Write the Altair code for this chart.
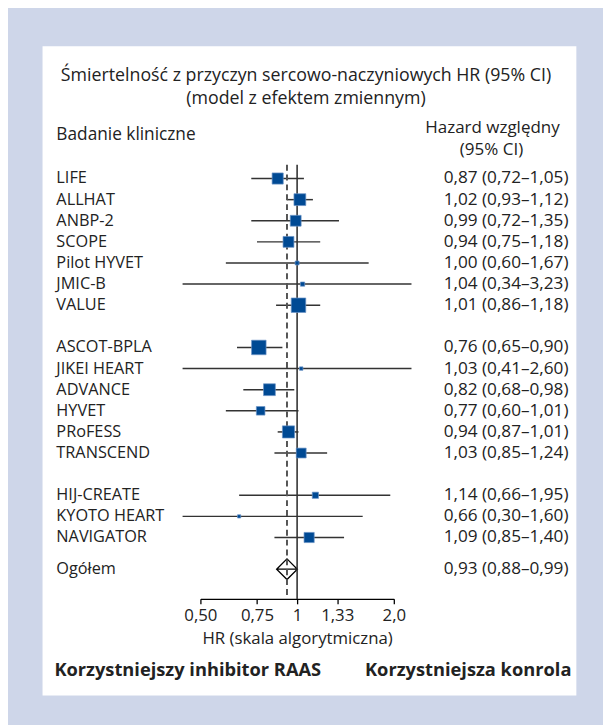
import altair as alt
import pandas as pd

# ---- data ----
studies = ["LIFE", "ALLHAT", "ANBP-2", "SCOPE", "Pilot HYVET", "JMIC-B", "VALUE",
           "ASCOT-BPLA", "JIKEI HEART", "ADVANCE", "HYVET", "PRoFESS", "TRANSCEND",
           "HIJ-CREATE", "KYOTO HEART", "NAVIGATOR"]
group = [1, 1, 1, 1, 1, 1, 1, 2, 2, 2, 2, 2, 2, 3, 3, 3]
hr = [0.87, 1.02, 0.99, 0.94, 1.00, 1.04, 1.01,
      0.76, 1.03, 0.82, 0.77, 0.94, 1.03,
      1.14, 0.66, 1.09]
lo = [0.72, 0.93, 0.72, 0.75, 0.60, 0.34, 0.86,
      0.65, 0.41, 0.68, 0.60, 0.87, 0.85,
      0.66, 0.30, 0.85]
hi = [1.05, 1.12, 1.35, 1.18, 1.67, 3.23, 1.18,
      0.90, 2.60, 0.98, 1.01, 1.01, 1.24,
      1.95, 1.60, 1.40]
weight = [11.3, 12.0, 11.0, 11.0, 4.0, 4.3, 14.7,
          14.7, 3.5, 12.0, 8.7, 12.3, 10.0,
          6.3, 3.3, 10.3]
overall_label = "Ogółem"
overall = [0.93, 0.88, 0.99]

tick_values = [0.5, 0.75, 1.0, 1.3333, 2.0]
tick_labels = ["0,50", "0,75", "1", "1,33", "2,0"]

title_lines = ["Śmiertelność z przyczyn sercowo-naczyniowych HR (95% CI)",
               "(model z efektem zmiennym)"]
col_left_header = "Badanie kliniczne"
col_right_header = ["Hazard względny", "(95% CI)"]
axis_title = "HR (skala algorytmiczna)"
favours = ["Korzystniejszy inhibitor RAAS", "Korzystniejsza konrola"]

# ---- build table ----
def fmt(v):
    return f"{v:.2f}".replace(".", ",")

CLIP_LO, CLIP_HI = 0.44, 2.27
rows = []
for i, s in enumerate(studies):
    row = i + (group[i] - 1)
    rows.append(dict(study=s, row=row, hr=hr[i], lo=lo[i], hi=hi[i],
                     lo_c=max(lo[i], CLIP_LO), hi_c=min(hi[i], CLIP_HI),
                     w=weight[i],
                     label=f"{fmt(hr[i])} ({fmt(lo[i])}–{fmt(hi[i])})"))
df = pd.DataFrame(rows)
ov_row = 18.5
dfo = pd.DataFrame([dict(study=overall_label, row=ov_row, hr=overall[0], lo=overall[1], hi=overall[2],
                         label=f"{fmt(overall[0])} ({fmt(overall[1])}–{fmt(overall[2])})")])
dft = pd.concat([df[["study", "row", "label"]], dfo[["study", "row", "label"]]])

FONT = "Open Sans"
INK = "#222222"
W, H = 541, 658
STEP = 21.4

xs = alt.Scale(type="log", domain=[0.5, 2.0], range=[160, 356])
ys = alt.Scale(domain=[0, 18], range=[134, 134 + 18 * STEP])

label_expr = " : ".join(
    f"datum.value == {v} ? '{l}'" for v, l in zip(tick_values, tick_labels)) + " : ''"

base = alt.Chart(df)

ci = base.mark_rule(color="#333333", strokeWidth=1.5).encode(
    x=alt.X("lo_c:Q", scale=xs,
            axis=alt.Axis(values=tick_values, labelExpr=label_expr, grid=False,
                          offset=-98, tickSize=5, tickColor="black", domainColor="black",
                          domainWidth=1.3, tickWidth=1.3, labelFontSize=17, labelFont=FONT,
                          labelColor=INK, labelPadding=4, labelFlush=False,
                          title=axis_title, titleFont=FONT, titleFontSize=17,
                          titleFontWeight="normal", titleColor=INK,
                          titleX=258, titleY=40, titleAlign="center", titleBaseline="middle")),
    x2="hi_c:Q",
    y=alt.Y("row:Q", scale=ys, axis=None),
)

diamond = alt.Chart(dfo).mark_point(
    shape="M-1,0L0,-1L1,0L0,1ZM-1,0L1,0", size=441, filled=False,
    fill="white", fillOpacity=1, stroke="black", strokeWidth=1.3, opacity=1
).encode(x=alt.X("hr:Q", scale=xs), y=alt.Y("row:Q", scale=ys))

vline_solid = alt.Chart(pd.DataFrame({"v": [1.0]})).mark_rule(
    color="#333333", strokeWidth=1.6).encode(
    x=alt.X("v:Q", scale=xs), y=alt.value(120), y2=alt.value(560))
vline_dash = alt.Chart(dfo).mark_rule(
    color="#555555", strokeWidth=2, strokeDash=[6, 4]).encode(
    x=alt.X("hr:Q", scale=xs), y=alt.value(120), y2=alt.value(557))

squares = base.mark_square(color="#004a94", opacity=1, stroke="#6a93c6", strokeWidth=0.7).encode(
    x=alt.X("hr:Q", scale=xs),
    y=alt.Y("row:Q", scale=ys),
    size=alt.Size("w:Q", scale=alt.Scale(type="pow", exponent=2, domain=[0, 15], range=[0, 225]),
                  legend=None),
)

names = alt.Chart(dft).mark_text(align="left", baseline="middle", font=FONT, fontSize=16.5,
                                 color=INK).encode(
    x=alt.value(14), y=alt.Y("row:Q", scale=ys), text="study:N")
hrtext = alt.Chart(dft).mark_text(align="right", baseline="middle", font=FONT, fontSize=17.4,
                                  color=INK).encode(
    x=alt.value(533), y=alt.Y("row:Q", scale=ys), text="label:N")


def label(text, x, y, size, align="center", weight="normal"):
    return alt.Chart(pd.DataFrame({"t": [text]})).mark_text(
        align=align, baseline="middle", font=FONT, fontSize=size, fontWeight=weight,
        color=INK).encode(x=alt.value(x), y=alt.value(y), text="t:N")


t1 = label(title_lines[0], 267, 30, 18)
t2 = label(title_lines[1], 267, 53, 18)
h1 = label(col_left_header, 14, 90, 17.5, align="left")
h2 = label(col_right_header[0], 456, 83, 17.2)
h3 = label(col_right_header[1], 455, 105, 17.2)
f1 = label(favours[0], 12, 632, 18.5, align="left", weight="bold")
f2 = label(favours[1], 536, 632, 18.5, align="right", weight="bold")

chart = alt.layer(ci, diamond, vline_solid, vline_dash, squares, names, hrtext,
                  t1, t2, h1, h2, h3, f1, f2).properties(
    width=W, height=H,
    background="#ced6e9",
    padding={"left": 35, "top": 34, "right": 27, "bottom": 25},
    autosize=alt.AutoSizeParams(type="none"),
).configure_view(fill="white", stroke=None)

chart.save("out.html", embed_options={"renderer": "svg", "actions": False})
